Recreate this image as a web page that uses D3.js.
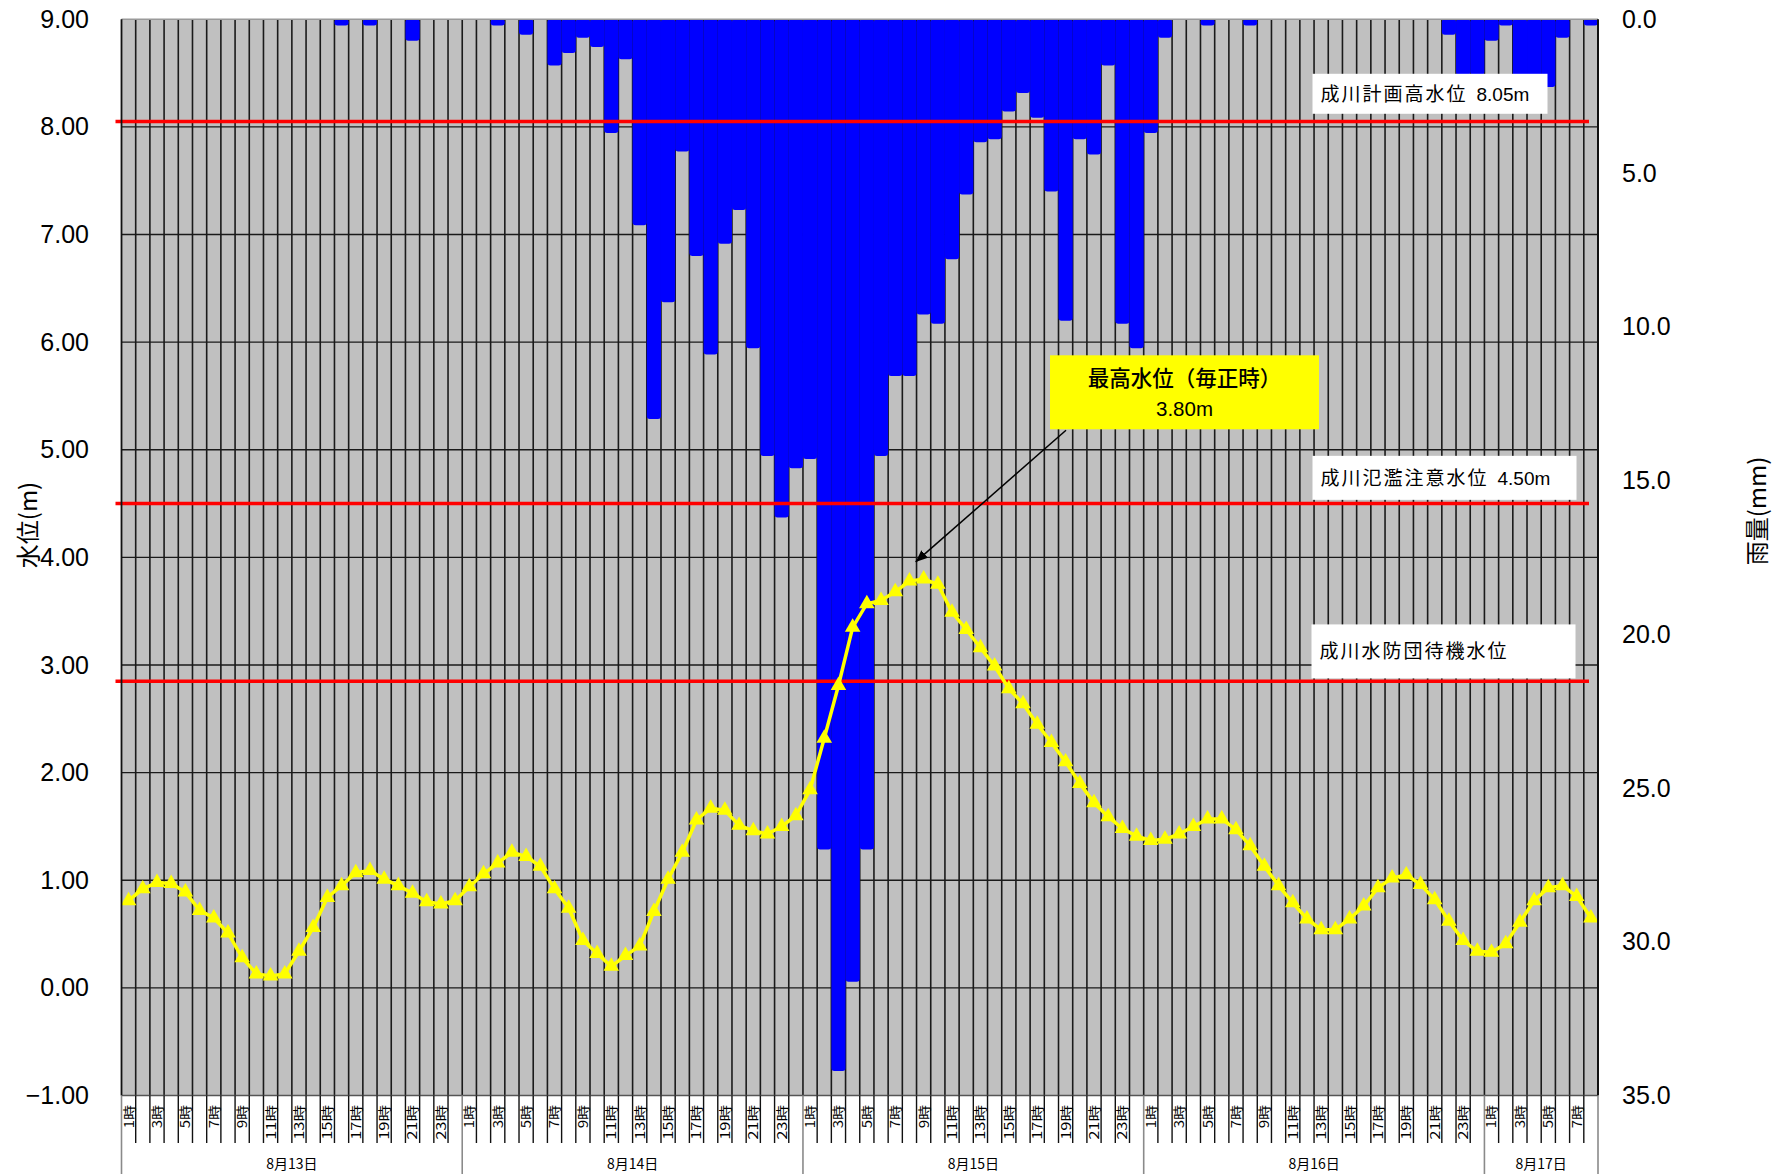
<!DOCTYPE html>
<html>
<head>
<meta charset="utf-8">
<title>成川 水位・雨量</title>
<script src="https://cdn.jsdelivr.net/npm/d3@7/dist/d3.min.js"></script>
<style>
    body { margin: 0; background: #fff; }
    svg { display: block; }
</style>
</head>
<body>
<script>
//days on the category axis and how many hourly columns each one has
var days = ["8月13日", "8月14日", "8月15日", "8月16日", "8月17日"];
var hoursPerDay = [24, 24, 24, 24, 8];

//hourly rainfall (mm), 8/13 1時 .. 8/17 8時
var rain = [
    0, 0, 0, 0, 0, 0, 0, 0, 0, 0, 0, 0, 0, 0, 0, 0.2, 0, 0.2, 0, 0, 0.7, 0, 0, 0,
    0, 0, 0.2, 0, 0.5, 0, 1.5, 1.1, 0.6, 0.9, 3.7, 1.3, 6.7, 13.0, 9.2, 4.3, 7.7, 10.9, 7.3, 6.2, 10.7, 14.2, 16.2, 14.6,
    14.3, 27.0, 34.2, 31.3, 27.0, 14.2, 11.6, 11.6, 9.6, 9.9, 7.8, 5.7, 4.0, 3.9, 3.0, 2.4, 3.2, 5.6, 9.8, 3.9, 4.4, 1.5, 9.9, 10.7,
    3.7, 0.6, 0, 0, 0.2, 0, 0, 0.2, 0, 0, 0, 0, 0, 0, 0, 0, 0, 0, 0, 0, 0, 0.5, 1.8, 1.8,
    0.7, 0.2, 2.0, 2.0, 2.2, 0.6, 0, 0.2
];

//hourly water level (m), same columns
var level = [
    0.81, 0.92, 0.98, 0.97, 0.89, 0.72, 0.65, 0.51, 0.28, 0.13, 0.11, 0.13, 0.34, 0.56, 0.84, 0.95, 1.07, 1.09, 1.01, 0.95, 0.88, 0.80, 0.78, 0.81,
    0.94, 1.06, 1.16, 1.26, 1.22, 1.13, 0.92, 0.74, 0.44, 0.32, 0.20, 0.30, 0.39, 0.71, 1.01, 1.26, 1.56, 1.67, 1.65, 1.51, 1.46, 1.43, 1.50, 1.60,
    1.84, 2.32, 2.81, 3.35, 3.57, 3.60, 3.68, 3.78, 3.80, 3.75, 3.49, 3.33, 3.16, 2.99, 2.78, 2.64, 2.45, 2.28, 2.10, 1.90, 1.72, 1.59, 1.48, 1.41,
    1.37, 1.38, 1.43, 1.50, 1.57, 1.57, 1.47, 1.32, 1.13, 0.95, 0.79, 0.64, 0.54, 0.54, 0.64, 0.76, 0.93, 1.02, 1.05, 0.96, 0.82, 0.62, 0.44, 0.34,
    0.33, 0.41, 0.61, 0.81, 0.93, 0.95, 0.85, 0.65
];

//axis ticks
var levelTicks = [-1, 0, 1, 2, 3, 4, 5, 6, 7, 8, 9];
var rainTicks = [0, 5, 10, 15, 20, 25, 30, 35];

//reference water levels
var refNames = ["成川計画高水位", "成川氾濫注意水位", "成川水防団待機水位"];
var refLevels = [8.05, 4.50, 2.85];
var refValues = ["8.05m", "4.50m", ""];

//peak annotation text
var peakTitle = "最高水位（毎正時）";
var peakValue = "3.80m";

var numFont = "'Liberation Sans', Arial, sans-serif";
var jpFont = "'Noto Sans CJK JP', 'Noto Sans', sans-serif";

setChart();

function setChart(){

    //svg frame dimensions
    var width = 1780,
        height = 1174;
    var margin = {left: 121.5, top: 19.3, right: 182, bottom: 78.5};
    var plotW = width - margin.left - margin.right,
        plotH = height - margin.top - margin.bottom;

    //one category per hour
    var hours = [];
    days.forEach(function(day, d){
        for (var h = 1; h <= hoursPerDay[d]; h++){
            hours.push({day: d, hour: h});
        }
    });

    var svg = d3.select("body")
        .append("svg")
        .attr("width", width)
        .attr("height", height);

    var plot = svg.append("g")
        .attr("transform", "translate(" + margin.left + "," + margin.top + ")");

    //scales
    var x = d3.scaleBand()
        .domain(d3.range(hours.length))
        .range([0, plotW])
        .padding(0);
    var bw = x.bandwidth();

    var yLevel = d3.scaleLinear()
        .domain([-1, 9])
        .range([plotH, 0]);

    var yRain = d3.scaleLinear()
        .domain([0, 35])
        .range([0, plotH]);

    //gray background columns
    plot.append("rect")
        .attr("width", plotW)
        .attr("height", plotH)
        .attr("fill", "#c0c0c0");

    //column borders
    plot.selectAll(".colLine")
        .data(d3.range(1, hours.length))
        .enter()
        .append("line")
        .attr("class", "colLine")
        .attr("x1", function(i){ return x(i); })
        .attr("x2", function(i){ return x(i); })
        .attr("y1", 0)
        .attr("y2", plotH)
        .attr("stroke", "#1a1a1a")
        .attr("stroke-width", 1.6);

    //horizontal grid lines
    plot.selectAll(".gridLine")
        .data(levelTicks.slice(1, -1))
        .enter()
        .append("line")
        .attr("class", "gridLine")
        .attr("x1", 0)
        .attr("x2", plotW)
        .attr("y1", function(d){ return yLevel(d); })
        .attr("y2", function(d){ return yLevel(d); })
        .attr("stroke", "#1a1a1a")
        .attr("stroke-width", 1.4);

    //rain bars hanging from the top
    plot.selectAll(".rain")
        .data(rain.map(function(v, i){ return {i: i, v: v}; }).filter(function(d){ return d.v > 0; }))
        .enter()
        .append("rect")
        .attr("class", "rain")
        .attr("x", function(d){ return x(d.i); })
        .attr("width", bw)
        .attr("y", 0)
        .attr("height", function(d){ return yRain(d.v); })
        .attr("rx", 3)
        .attr("ry", 3)
        .attr("fill", "#0000ff");

    //reference lines
    plot.selectAll(".refLine")
        .data(refLevels)
        .enter()
        .append("line")
        .attr("class", "refLine")
        .attr("x1", -6)
        .attr("x2", plotW - 9)
        .attr("y1", function(d){ return yLevel(d); })
        .attr("y2", function(d){ return yLevel(d); })
        .attr("stroke", "#ff0000")
        .attr("stroke-width", 3.5);

    //reference labels (box layout: left, width, height, gap above line)
    var boxes = [
        {x: 1191, w: 235, h: 40, gap: 6},
        {x: 1191, w: 264, h: 44, gap: 2},
        {x: 1190, w: 264, h: 54, gap: 1}
    ];
    refNames.forEach(function(name, k){
        var b = boxes[k],
            yLine = yLevel(refLevels[k]),
            top = yLine - 1.75 - b.gap - b.h;
        plot.append("rect")
            .attr("x", b.x)
            .attr("y", top)
            .attr("width", b.w)
            .attr("height", b.h)
            .attr("fill", "#ffffff");
        var t = plot.append("text")
            .attr("x", b.x + 8)
            .attr("y", top + b.h / 2)
            .attr("dy", "0.36em")
            .attr("font-family", jpFont)
            .attr("font-size", 19)
            .attr("letter-spacing", 2)
            .attr("fill", "#000")
            .text(name);
        if (refValues[k]){
            t.append("tspan")
                .attr("dx", 9)
                .attr("font-family", numFont)
                .attr("font-size", 19)
                .attr("letter-spacing", 0)
                .text(refValues[k]);
        }
    });

    //water level line with triangle markers
    var line = d3.line()
        .x(function(d, i){ return x(i) + bw / 2; })
        .y(function(d){ return yLevel(d); });

    plot.append("path")
        .datum(level)
        .attr("d", line)
        .attr("fill", "none")
        .attr("stroke", "#ffff00")
        .attr("stroke-width", 3.5);

    plot.selectAll(".marker")
        .data(level)
        .enter()
        .append("path")
        .attr("class", "marker")
        .attr("d", d3.symbol().type(d3.symbolTriangle).size(105))
        .attr("transform", function(d, i){
            return "translate(" + (x(i) + bw / 2) + "," + yLevel(d) + ")";
        })
        .attr("fill", "#ffff00");

    //frame
    plot.append("line")
        .attr("x1", 0).attr("x2", plotW)
        .attr("y1", 0).attr("y2", 0)
        .attr("stroke", "#9a9a9a").attr("stroke-width", 1.5);
    plot.append("line")
        .attr("x1", 0).attr("x2", plotW)
        .attr("y1", plotH).attr("y2", plotH)
        .attr("stroke", "#555").attr("stroke-width", 1.6);
    plot.append("line")
        .attr("x1", 0).attr("x2", 0)
        .attr("y1", 0).attr("y2", plotH)
        .attr("stroke", "#111").attr("stroke-width", 1.8);
    plot.append("line")
        .attr("x1", plotW).attr("x2", plotW)
        .attr("y1", 0).attr("y2", plotH)
        .attr("stroke", "#111").attr("stroke-width", 2);

    //hour ticks below the plot
    var dayStarts = [0];
    hoursPerDay.forEach(function(n, d){ dayStarts.push(dayStarts[d] + n); });

    plot.selectAll(".hourTick")
        .data(d3.range(1, hours.length).filter(function(i){ return dayStarts.indexOf(i) < 0; }))
        .enter()
        .append("line")
        .attr("class", "hourTick")
        .attr("x1", function(i){ return x(i); })
        .attr("x2", function(i){ return x(i); })
        .attr("y1", plotH)
        .attr("y2", plotH + 47.5)
        .attr("stroke", "#111")
        .attr("stroke-width", 1.4);

    //day dividers
    plot.selectAll(".dayLine")
        .data(dayStarts)
        .enter()
        .append("line")
        .attr("class", "dayLine")
        .attr("x1", function(i){ return i < hours.length ? x(i) : plotW; })
        .attr("x2", function(i){ return i < hours.length ? x(i) : plotW; })
        .attr("y1", plotH)
        .attr("y2", height - margin.top)
        .attr("stroke", "#8a8a8a")
        .attr("stroke-width", 1.6);

    //hour labels, odd hours, rotated and stretched along the text
    var hourAxis = plot.append("g")
        .attr("transform", "translate(0," + plotH + ")")
        .call(d3.axisBottom(x)
            .tickValues(d3.range(hours.length).filter(function(i){ return hours[i].hour % 2 === 1; }))
            .tickFormat(function(i){ return hours[i].hour + "時"; })
            .tickSize(0));
    hourAxis.select(".domain").remove();
    hourAxis.selectAll("text")
        .attr("transform", "rotate(-90)")
        .attr("x", -9.5)
        .attr("y", 0)
        .attr("dy", "0.38em")
        .attr("text-anchor", "end")
        .attr("font-family", jpFont)
        .attr("font-size", 13)
        .attr("textLength", function(){ return this.textContent.length * 11.6; })
        .attr("lengthAdjust", "spacingAndGlyphs")
        .attr("fill", "#000");

    //day labels
    plot.selectAll(".dayLabel")
        .data(days)
        .enter()
        .append("text")
        .attr("class", "dayLabel")
        .attr("x", function(d, k){
            var a = x(dayStarts[k]),
                b = x(dayStarts[k + 1] - 1) + bw;
            return (a + b) / 2;
        })
        .attr("y", plotH + 68.5)
        .attr("dy", "0.36em")
        .attr("text-anchor", "middle")
        .attr("font-family", jpFont)
        .attr("font-size", 14)
        .attr("fill", "#000")
        .text(function(d){ return d; });

    //left axis: water level
    var leftAxis = plot.append("g")
        .call(d3.axisLeft(yLevel)
            .tickValues(levelTicks)
            .tickFormat(d3.format(".2f"))
            .tickSize(0)
            .tickPadding(32.5));
    leftAxis.select(".domain").remove();
    leftAxis.selectAll("text")
        .attr("font-family", numFont)
        .attr("font-size", 25)
        .attr("fill", "#000");

    //right axis: rainfall
    var rightAxis = plot.append("g")
        .attr("transform", "translate(" + plotW + ",0)")
        .call(d3.axisRight(yRain)
            .tickValues(rainTicks)
            .tickFormat(d3.format(".1f"))
            .tickSize(0)
            .tickPadding(24));
    rightAxis.select(".domain").remove();
    rightAxis.selectAll("text")
        .attr("font-family", numFont)
        .attr("font-size", 25)
        .attr("fill", "#000");

    //axis titles
    svg.append("text")
        .attr("transform", "translate(28,525) rotate(-90)")
        .attr("text-anchor", "middle")
        .attr("dy", "0.36em")
        .attr("font-family", jpFont)
        .attr("font-size", 24)
        .text("水位(m)");
    svg.append("text")
        .attr("transform", "translate(1757,511) rotate(-90)")
        .attr("text-anchor", "middle")
        .attr("dy", "0.36em")
        .attr("font-family", jpFont)
        .attr("font-size", 24)
        .text("雨量(mm)");

    //peak annotation
    var peak = d3.maxIndex(level);
    var px = x(peak) + bw / 2,
        py = yLevel(level[peak]);

    svg.append("defs").append("marker")
        .attr("id", "arrow")
        .attr("viewBox", "0 0 12 10")
        .attr("refX", 12)
        .attr("refY", 5)
        .attr("markerWidth", 12)
        .attr("markerHeight", 10)
        .attr("markerUnits", "userSpaceOnUse")
        .attr("orient", "auto")
        .append("path")
        .attr("d", "M0,0L12,5L0,10Z")
        .attr("fill", "#000");

    var boxX = 928.5, boxY = 336, boxW = 269, boxH = 74;
    plot.append("rect")
        .attr("x", boxX)
        .attr("y", boxY)
        .attr("width", boxW)
        .attr("height", boxH)
        .attr("fill", "#ffff00");
    plot.append("text")
        .attr("x", boxX + boxW / 2)
        .attr("y", boxY + 23)
        .attr("dy", "0.36em")
        .attr("text-anchor", "middle")
        .attr("font-family", jpFont)
        .attr("font-size", 21.5)
        .attr("font-weight", 500)
        .text(peakTitle);
    plot.append("text")
        .attr("x", boxX + boxW / 2)
        .attr("y", boxY + 53)
        .attr("dy", "0.36em")
        .attr("text-anchor", "middle")
        .attr("font-family", numFont)
        .attr("font-size", 20.5)
        .text(peakValue);

    plot.append("line")
        .attr("x1", boxX + 16)
        .attr("y1", boxY + boxH + 1)
        .attr("x2", px - 8)
        .attr("y2", py - 17)
        .attr("stroke", "#000")
        .attr("stroke-width", 1.5)
        .attr("marker-end", "url(#arrow)");
}
</script>
</body>
</html>
